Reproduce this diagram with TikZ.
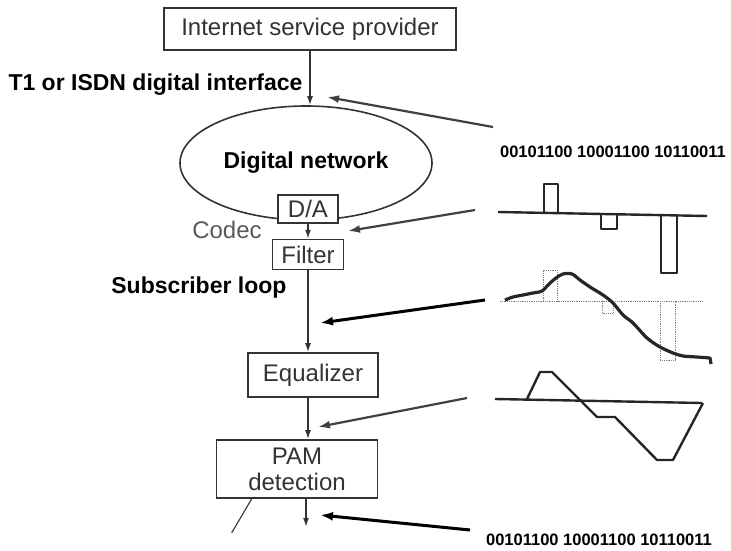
\documentclass[tikz,border=0pt]{standalone}
\usepackage{fontspec}
\setmainfont{Liberation Sans}
\usetikzlibrary{arrows.meta, positioning, shapes.geometric, calc}
\tikzset{
  every node/.style={font=\fontsize{24}{26}\selectfont, text=black!80},
  blk/.style={draw=black!80, line width=1.6pt, rectangle, inner sep=0pt, align=center, fill=white},
  netshape/.style={draw=black!80, line width=1.6pt, ellipse, inner sep=0pt},
  lbl/.style={font=\fontsize{23}{25}\selectfont\bfseries, text=black},
  bits/.style={font=\fontsize{16.5}{18}\selectfont\bfseries, text=black},
  arr/.style={-{Latex[length=9pt,width=6pt]}, line width=1.5pt, draw=black!80},
  feed/.style={-{Latex[length=12pt,width=8pt]}, line width=2.2pt, draw=black!75},
  heavy/.style={-{Latex[length=13pt,width=9pt]}, line width=3pt, draw=black},
  wave/.style={line width=2.4pt, draw=black!85, line join=round},
  dots/.style={densely dotted, line width=0.8pt, draw=black!50},
}

\begin{document}
\begin{tikzpicture}[x=1pt, y=-1pt]
        \useasboundingbox (0,0) rectangle (731,551);
        % nodes
        \node[blk, minimum width=292pt, minimum height=42pt] (isp) at (310,29) {Internet service provider};
        \node[lbl, anchor=west] (iface) at (5,85) {T1 or ISDN digital interface};
        \node[netshape, minimum width=252pt, minimum height=114pt, font=\fontsize{23}{25}\selectfont\bfseries, text=black] (net) at (306,163) {Digital network\\[-4pt]};
        \node[blk, minimum width=60pt, minimum height=28pt] (da) at (308,209) {D/A};
        \node[text=black!65] (codec) at (227,230) {Codec};
        \node[blk, minimum width=71pt, minimum height=30pt, below=15pt of da] (filt) {Filter};
        \node[lbl, anchor=east] (loop) at (290,288) {Subscriber loop};
        \node[blk, minimum width=130pt, minimum height=44pt] (eq) at (313,375) {Equalizer};
        \node[blk, minimum width=161pt, minimum height=58pt] (pam) at (297,469) {PAM\\detection};
        \node[bits] (bin1) at (613,152) {00101100 10001100 10110011};
        \node[bits] (bin2) at (599,540) {00101100 10001100 10110011};
        % signal path
        \draw[arr] (isp.south) -- (isp.south |- net.north);
        \draw[arr] (da) -- (filt);
        \draw[arr] (filt.south) -- (filt.south |- eq.north);
        \draw[arr] (filt.south |- eq.south) -- (filt.south |- pam.north);
        \coordinate (out) at (306,527);
        \draw[arr] (out |- pam.south) -- (out);
        \draw[line width=1.2pt, black!75] ($(pam.south west)+(36,0)$) -- ++(-20,34);
        % pointers from the signals
        \coordinate (f1) at (493,127); \coordinate (h1) at (327,97);
        \coordinate (f2) at (475,210); \coordinate (h2) at (348,231);
        \coordinate (f3) at (485,300); \coordinate (h3) at (320,323);
        \coordinate (f4) at (467,398); \coordinate (h4) at (318,427);
        \coordinate (f5) at (470,530); \coordinate (h5) at (320,515);
        \draw[feed] (f1) -- (h1);
        \draw[feed] (f2) -- (h2);
        \draw[heavy] (f3) -- (h3);
        \draw[feed] (f4) -- (h4);
        \draw[heavy] (f5) -- (h5);
        % pulses after D/A
        \draw[wave] (498,212) -- (707,216);
        \draw[wave] (544,213) -- (544,184) -- (558,184) -- (558,213);
        \draw[wave] (601,214) -- (601,229) -- (617,229) -- (617,214);
        \draw[wave] (661,215) -- (661,273) -- (677,273) -- (677,215);
        % signal on the loop
        \draw[dots] (500,301) -- (703,301);
        \draw[dots] (543,301) -- (543,270) -- (557,270) -- (557,301);
        \draw[dots] (602,301) -- (602,313) -- (613,313) -- (613,301);
        \draw[dots] (660,301) -- (660,360) -- (675,360) -- (675,301);
        \draw[wave, line width=3.2pt] plot[smooth, tension=0.5] coordinates {(505,300) (513,297) (523,295) (533,293) (542,291) (549,284) (556,278) (563,274) (572,274) (580,280) (590,287) (603,295) (613,303) (623,315) (633,323) (647,338) (660,347) (673,353) (683,356) (697,357) (710,358)} -- (711,364);
        % equalized signal
        \draw[wave] (495,399) -- (702,403);
        \draw[wave] (527,399) -- (540,372) -- (552,372) -- (597,417) -- (615,417) -- (657,460) -- (673,460) -- (703,403);
\end{tikzpicture}
\end{document}
